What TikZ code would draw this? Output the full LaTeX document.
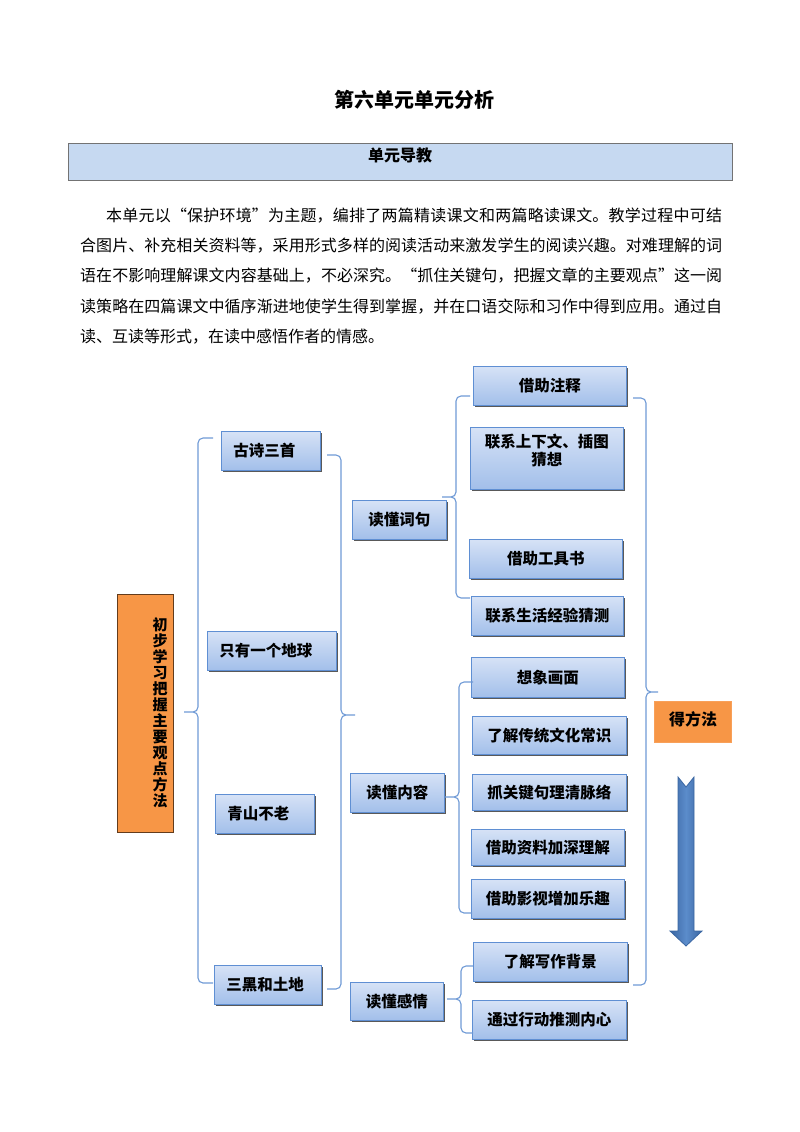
\documentclass[tikz,border=0pt]{standalone}
\usepackage{fontspec}
\setmainfont{Noto Sans CJK SC}
\usepackage{tikz}
\usetikzlibrary{shadows}
\XeTeXlinebreaklocale "zh"
\XeTeXlinebreakskip=0pt plus 1pt minus 0.5pt

\definecolor{boxtop}{HTML}{D6E2F6}
\definecolor{boxbot}{HTML}{A2BFEA}
\definecolor{boxline}{HTML}{5F8FD3}
\definecolor{braceline}{HTML}{6F9AD6}
\definecolor{orangefill}{HTML}{F79646}
\definecolor{headfill}{HTML}{C6D9F1}
\definecolor{arrowdark}{HTML}{3A66A2}
\definecolor{arrowlight}{HTML}{5B8CCB}

\tikzset{
  topic/.style={draw=boxline, line width=0.8pt, top color=boxtop, bottom color=boxbot,
    drop shadow={shadow xshift=1.6pt, shadow yshift=-1.6pt, fill=black!65, opacity=1},
    anchor=north west, inner sep=0pt, align=center,
    font=\fontsize{15.5}{17.5}\selectfont\bfseries},
  lesson/.style={topic, align=left, inner xsep=12pt},
  brace/.style={draw=braceline, line width=1.1pt, rounded corners=5pt},
  para/.style={text width=642pt, align=justify, inner sep=0pt, font=\fontsize{16}{30.4}\selectfont},
}

\begin{document}
\begin{tikzpicture}[x=1pt,y=-1pt]
\fill[white] (0,0) rectangle (800,1132);
\useasboundingbox (0,0) rectangle (800,1132);

\node[font=\fontsize{20}{24}\selectfont\bfseries] (title) at (414,100) {第六单元单元分析};

\node[draw=black!55, line width=0.8pt, fill=headfill, anchor=north west, minimum width=664, minimum height=37] (daojiao) at (68,143) {};
\node[font=\fontsize{16}{19}\selectfont\bfseries] (daojiaotext) at (400,155) {单元导教};

\node[para, anchor=base west] (intro) at (80,221) {\hspace*{26pt}本单元以“保护环境”为主题，编排了两篇精读课文和两篇略读课文。教学过程中可结\linebreak 合图片、补充相关资料等，采用形式多样的阅读活动来激发学生的阅读兴趣。对难理解的词\linebreak 语在不影响理解课文内容基础上，不必深究。“抓住关键句，把握文章的主要观点”这一阅\linebreak 读策略在四篇课文中循序渐进地使学生得到掌握，并在口语交际和习作中得到应用。通过自\linebreak 读、互读等形式，在读中感悟作者的情感。};

% left column
\node[draw=black!60!orangefill, line width=0.8pt, fill=orangefill, anchor=north west, minimum width=56, minimum height=238] (fangfa) at (117,594) {};
\node[align=center, inner sep=0pt, font=\fontsize{15}{16}\selectfont\bfseries] (fangfatext) at (160,713) {初\\步\\学\\习\\把\\握\\主\\要\\观\\点\\方\\法};

\node[lesson, text width=75, minimum height=39] (gushi) at (221,431) {古诗三首};
\node[lesson, text width=105, minimum height=39] (diqiu) at (207,631) {只有一个地球};
\node[lesson, text width=75, minimum height=39] (qingshan) at (215,794) {青山不老};
\node[lesson, text width=83, minimum height=39] (sanhei) at (214,965) {三黑和土地};

% middle column
\node[topic, minimum width=94, minimum height=39] (ciju) at (352,500) {读懂词句};
\node[topic, minimum width=94, minimum height=39] (neirong) at (350,773) {读懂内容};
\node[topic, minimum width=93, minimum height=38] (ganqing) at (350,982) {读懂感情};

% right column
\node[topic, minimum width=153, minimum height=39] (zhushi) at (473,366) {借助注释};
\node[topic, minimum width=153, minimum height=62] (lianxi) at (470,427) {联系上下文、插图\\猜想\\~};
\node[topic, minimum width=153, minimum height=39] (gongjushu) at (469,539) {借助工具书};
\node[topic, minimum width=152, minimum height=39] (jingyan) at (471,596) {联系生活经验猜测};
\node[topic, minimum width=153, minimum height=40] (xiangxiang) at (471,657) {想象画面};
\node[topic, minimum width=154, minimum height=38] (changshi) at (472,716) {了解传统文化常识};
\node[topic, minimum width=154, minimum height=36] (mailuo) at (472,774) {抓关键句理清脉络};
\node[topic, minimum width=153, minimum height=36] (ziliao) at (471,829) {借助资料加深理解};
\node[topic, minimum width=153, minimum height=39] (yingshi) at (471,879) {借助影视增加乐趣};
\node[topic, minimum width=154, minimum height=39] (beijing) at (473,942) {了解写作背景};
\node[topic, minimum width=154, minimum height=39] (neixin) at (472,1000) {通过行动推测内心};

\node[fill=orangefill, draw=orangefill!90!white, anchor=north west, minimum width=77, minimum height=41] (defangfa) at (654,701) {};
\node[font=\fontsize{16}{19}\selectfont\bfseries] (defangfatext) at (693,719) {得方法};

% braces
\draw[brace] (213,438) -- (198,438) -- (198,712) -- (184,712) (184,712) -- (198,712) -- (198,983) -- (213,983);
\draw[brace] (327,455) -- (341,455) -- (341,715) -- (355,715) (355,715) -- (341,715) -- (341,989) -- (327,989);
\draw[brace] (470,396) -- (456,396) -- (456,497) -- (442,497) (442,497) -- (456,497) -- (456,598) -- (470,598);
\draw[brace] (473,682) -- (459,682) -- (459,797) -- (445,797) (445,797) -- (459,797) -- (459,913) -- (472,913);
\draw[brace] (473,966) -- (461,966) -- (461,999) -- (447,999) (447,999) -- (461,999) -- (461,1033) -- (473,1033);
\draw[brace] (633,398) -- (646,398) -- (646,692) -- (658,692) (658,692) -- (646,692) -- (646,985) -- (633,985);

% down arrow
\path[left color=arrowdark, right color=arrowdark, middle color=arrowlight, draw=arrowdark, line width=0.8pt]
  (678,777) -- (686,787) -- (694,777) -- (694,931) -- (702,931) -- (686,946) -- (670,931) -- (678,931) -- cycle;

\end{tikzpicture}
\end{document}
